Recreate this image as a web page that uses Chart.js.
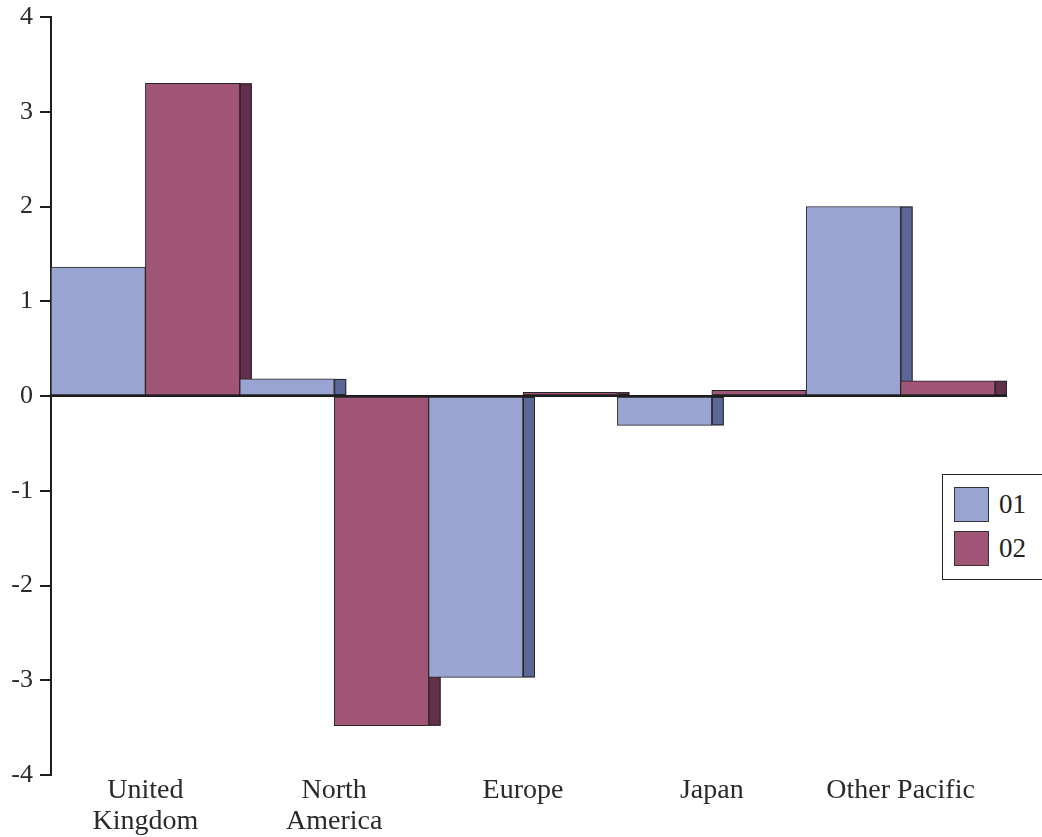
<!DOCTYPE html>
<html>
<head>
<meta charset="utf-8">
<script src="https://cdn.jsdelivr.net/npm/chart.js@4"></script>
<style>
  html, body { margin: 0; padding: 0; background: #fff; overflow: hidden; }
  #wrap { position: relative; width: 1042px; height: 837px; }
  #chart { position: absolute; left: 0; top: 0; }
  #legend {
    position: absolute; left: 942px; top: 474px; width: 120px; height: 106px;
    border: 1px solid #222; box-sizing: border-box; background: #fff;
    font-family: "Liberation Serif", serif; font-size: 27px; color: #222;
  }
  .item { position: absolute; left: 11px; height: 35px; display: flex; align-items: center; }
  .swatch { width: 35px; height: 35px; box-sizing: border-box; border: 1px solid #333; margin-right: 10px; }
</style>
</head>
<body>
<div id="wrap">
  <canvas id="chart" width="1042" height="837"></canvas>
  <div id="legend"></div>
</div>
<script>
// Regions and the two yearly series
const categories = [["United", "Kingdom"], ["North", "America"], "Europe", "Japan", "Other Pacific"];
const seriesNames = ["01", "02"];
const values01 = [1.36, 0.18, -2.97, -0.31, 2.0];
const values02 = [3.30, -3.48, 0.04, 0.06, 0.16];
const yTicks = [-4, -3, -2, -1, 0, 1, 2, 3, 4];

const fills = ["#99a4d2", "#a05576"];
const sides = ["#5b6897", "#62304a"];
const FONT = "'Liberation Serif', serif";
const DEPTH = 12;

// Dark right-hand face behind each bar, giving the bars some depth
const sideFaces = {
  id: "sideFaces",
  beforeDatasetsDraw(chart) {
    const ctx = chart.ctx;
    chart.data.datasets.forEach((ds, i) => {
      chart.getDatasetMeta(i).data.forEach(bar => {
        const p = bar.getProps(["x", "y", "base", "width"], true);
        const right = p.x + p.width / 2;
        const top = Math.min(p.y, p.base), bottom = Math.max(p.y, p.base);
        ctx.save();
        ctx.fillStyle = sides[i];
        ctx.strokeStyle = "#262626";
        ctx.lineWidth = 1;
        ctx.fillRect(right, top, DEPTH, bottom - top);
        ctx.strokeRect(right + 0.5, top + 0.5, DEPTH - 1, bottom - top - 1);
        ctx.restore();
      });
    });
  },
  afterDatasetsDraw(chart) {
    // baseline at zero, running under the side faces too
    const ctx = chart.ctx;
    const y0 = chart.scales.y.getPixelForValue(0);
    ctx.save();
    ctx.strokeStyle = "#1e1e1e";
    ctx.lineWidth = 2;
    ctx.beginPath();
    ctx.moveTo(chart.chartArea.left, y0);
    ctx.lineTo(chart.chartArea.right + DEPTH, y0);
    ctx.stroke();
    ctx.restore();
  }
};

const chart = new Chart(document.getElementById("chart"), {
  type: "bar",
  data: {
    labels: categories,
    datasets: [values01, values02].map((vals, i) => ({
      label: seriesNames[i],
      data: vals,
      backgroundColor: fills[i],
      borderColor: "#262626",
      borderWidth: 1,
      borderSkipped: false,
      categoryPercentage: 1,
      barPercentage: 1
    }))
  },
  options: {
    responsive: false,
    animation: false,
    events: [],
    layout: { padding: { top: 17, right: 47, left: 0, bottom: 0 } },
    plugins: { legend: { display: false }, tooltip: { enabled: false } },
    scales: {
      x: {
        grid: { display: false, drawTicks: false },
        border: { display: false },
        ticks: {
          padding: 0,
          color: "#2a2a2a",
          maxRotation: 0,
          autoSkip: false,
          font: { family: FONT, size: 28, lineHeight: 1.1 }
        },
        afterFit(scale) { scale.height = 62; }
      },
      y: {
        min: -4, max: 4,
        afterBuildTicks(scale) { scale.ticks = yTicks.map(v => ({ value: v })); },
        grid: { drawOnChartArea: false, drawTicks: true, tickLength: 11, color: "#1e1e1e", lineWidth: 2 },
        border: { display: true, color: "#1e1e1e", width: 2 },
        ticks: {
          padding: 7,
          color: "#2a2a2a",
          font: { family: FONT, size: 26 }
        },
        afterFit(scale) {
          scale.width = 51;
          scale.paddingTop = 0;
          scale.paddingBottom = 0;
        }
      }
    }
  },
  plugins: [sideFaces]
});

// Legend box built from the datasets
const legend = document.getElementById("legend");
chart.data.datasets.forEach((ds, i) => {
  const item = document.createElement("div");
  item.className = "item";
  item.style.top = (12 + i * 44) + "px";
  const sw = document.createElement("div");
  sw.className = "swatch";
  sw.style.background = ds.backgroundColor;
  const txt = document.createElement("span");
  txt.textContent = ds.label;
  item.appendChild(sw);
  item.appendChild(txt);
  legend.appendChild(item);
});
</script>
</body>
</html>
